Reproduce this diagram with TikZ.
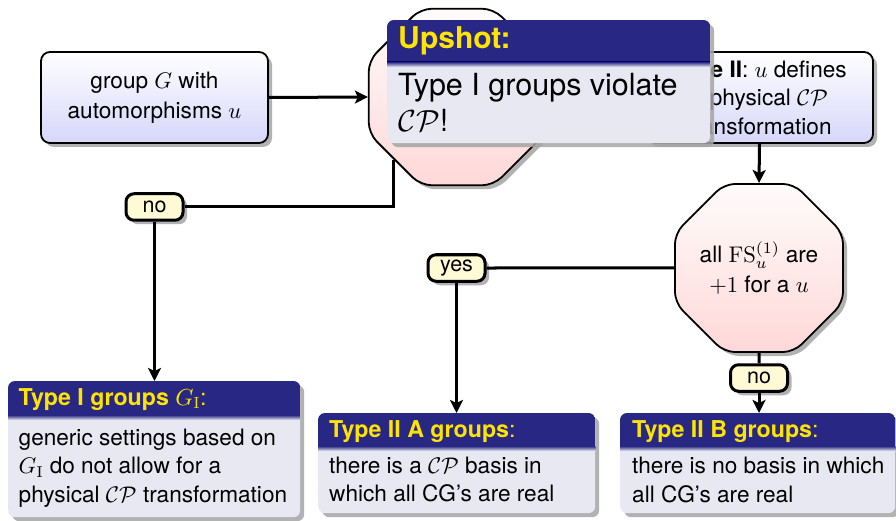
\documentclass[tikz,border=0pt]{standalone}
\usepackage[no-math]{fontspec}
\setmainfont{TeX Gyre Heros}
\usetikzlibrary{shapes.geometric,shadows,arrows.meta}

% math letters at their 10pt/7pt design sizes for every size (sturdier strokes)
\DeclareFontFamily{OML}{cmm}{\skewchar\font'177}
\DeclareFontShape{OML}{cmm}{m}{it}{<-16>cmmi7 <16->cmmi10}{}
\DeclareFontFamily{OMS}{cmsy}{\skewchar\font'60}
\DeclareFontShape{OMS}{cmsy}{m}{n}{<-16>cmsy7 <16->cmsy10}{}
\DeclareFontFamily{OT1}{cmr}{\hyphenchar\font45}
\DeclareFontShape{OT1}{cmr}{m}{n}{<-16>cmr7 <16->cmr10}{}

\definecolor{barblue}{RGB}{40,40,132}
\definecolor{titleyellow}{RGB}{255,228,0}
\definecolor{blockbody}{RGB}{232,232,242}
\definecolor{boxbottom}{RGB}{214,214,250}
\definecolor{octtop}{RGB}{255,251,251}
\definecolor{octbottom}{RGB}{255,216,216}
\definecolor{labelfill}{RGB}{255,250,214}
\definecolor{shadowgray}{RGB}{165,165,165}

\tikzset{
  softshadow/.style={drop shadow={shadow xshift=4pt, shadow yshift=-4pt, fill=shadowgray, opacity=0.85}},
  stdtext/.style={font=\fontsize{22.6}{28.5}\selectfont},
  widetext/.style={font=\fontsize{22.6}{30}\selectfont},
  flowbox/.style={draw, line width=1.8pt, rounded corners=9pt, top color=white,
    bottom color=boxbottom, softshadow, minimum width=227pt, minimum height=91pt,
    align=center, inner sep=0pt},
  octa/.style={regular polygon, regular polygon sides=8, draw, line width=1.8pt,
    rounded corners=11pt, top color=octtop, bottom color=octbottom, softshadow,
    inner sep=0pt, align=center, widetext},
  answer/.style={draw, line width=3pt, rounded corners=8pt, fill=labelfill, softshadow,
    minimum width=57pt, minimum height=26.5pt, inner sep=0pt, font=\fontsize{21.5}{25}\selectfont},
  blockframe/.style={rounded corners=7pt, fill=blockbody, softshadow, inner sep=0pt, anchor=north west},
  blocktitle/.style={anchor=base west, inner sep=0pt, text=titleyellow, font=\fontsize{23.2}{28.5}\selectfont},
  blocktext/.style={anchor=north west, inner sep=0pt, align=left, stdtext},
  flow/.style={line width=3pt},
  flowarrow/.style={flow, -{Stealth[length=13pt, width=13pt, inset=3pt]}},
}

% title bar of a block frame: #1 node name, #2 bar height
\newcommand\blockbar[2]{%
  \begin{scope}
    \clip[rounded corners=7pt] (#1.north west) rectangle (#1.south east);
    \fill[barblue] (#1.north west) rectangle ([yshift=-#2]#1.north east);
    \shade[top color=barblue, bottom color=blockbody]
      ([yshift=-#2]#1.north west) rectangle ([yshift=-#2-5pt]#1.north east);
  \end{scope}}

\begin{document}
\begin{tikzpicture}[x=1pt, y=-1pt]
\path[use as bounding box, fill=white] (0,0) rectangle (896,521);

% decision chain
\node[flowbox, widetext] (gbox) at (154.5,97.5) {group $G$ with\\ automorphisms $u$};
\node[octa, minimum size=191pt] (oct1) at (457,97) {};
\node[flowbox, stdtext] (t2box) at (759.5,97.5)
  {\textbf{Type II}: $u$ defines\\ a physical $\mathcal{CP}$\\ transformation};
\node[octa, minimum size=182pt] (oct2) at (759,268)
  {all $\mathrm{FS}_u^{(1)}$ are\\ $+1$ for a $u$};

% answer tags
\node[answer] (no1) at (154.5,207) {no};
\node[answer] (yes) at (456.5,268) {yes};
\node[answer] (no2) at (759,378) {no};

% result blocks
\node[blockframe, minimum width=292pt, minimum height=136pt] (typeI) at (8,381) {};
\blockbar{typeI}{34pt}
\node[blocktitle] (typeIhead) at (18.5,405) {\textbf{Type I groups} $G_{\mathrm{I}}$:};
\node[blocktext] (typeItext) at (18.5,425)
  {\strut generic settings based on\\ $G_{\mathrm{I}}$ do not allow for a\\ physical $\mathcal{CP}$ transformation};

\node[blockframe, minimum width=277pt, minimum height=100pt] (typeIIa) at (318,413) {};
\blockbar{typeIIa}{33pt}
\node[blocktitle] (typeIIahead) at (329,437) {\textbf{Type II A groups}:};
\node[blocktext] (typeIIatext) at (329,453)
  {\strut there is a $\mathcal{CP}$ basis in\\ which all CG's are real};

\node[blockframe, minimum width=275pt, minimum height=100pt] (typeIIb) at (620,413) {};
\blockbar{typeIIb}{33pt}
\node[blocktitle] (typeIIbhead) at (632,437) {\textbf{Type II B groups}:};
\node[blocktext] (typeIIbtext) at (632,453.5)
  {\strut there is no basis in which\\ all CG's are real};

% connectors
\draw[flowarrow] (gbox.east) -- (oct1.west);
\draw[flowarrow] (oct1.east) -- (t2box.west);
\draw[flowarrow] (t2box.south) -- (oct2.north);
\draw[flow] (oct1.south west) |- (no1.east);
\draw[flowarrow] (no1.south) -- (no1 |- typeI.north);
\draw[flow] (oct2.west) -- (yes.east);
\draw[flowarrow] (yes.south) -- (yes |- typeIIa.north);
\draw[flow] (oct2.south) -- (no2.north);
\draw[flowarrow] (no2.south) -- (no2 |- typeIIb.north);

% summary block on top
\node[blockframe, minimum width=323pt, minimum height=123pt] (upshot) at (387,20) {};
\blockbar{upshot}{42pt}
\node[blocktitle, font=\bfseries\fontsize{30}{36}\selectfont] (upshothead) at (398,48.5) {Upshot:};
\node[blocktext, font=\fontsize{30.5}{36}\selectfont] (upshottext) at (398,69.8)
  {\strut Type I groups violate\\ $\mathcal{CP}$!};
\end{tikzpicture}
\end{document}
